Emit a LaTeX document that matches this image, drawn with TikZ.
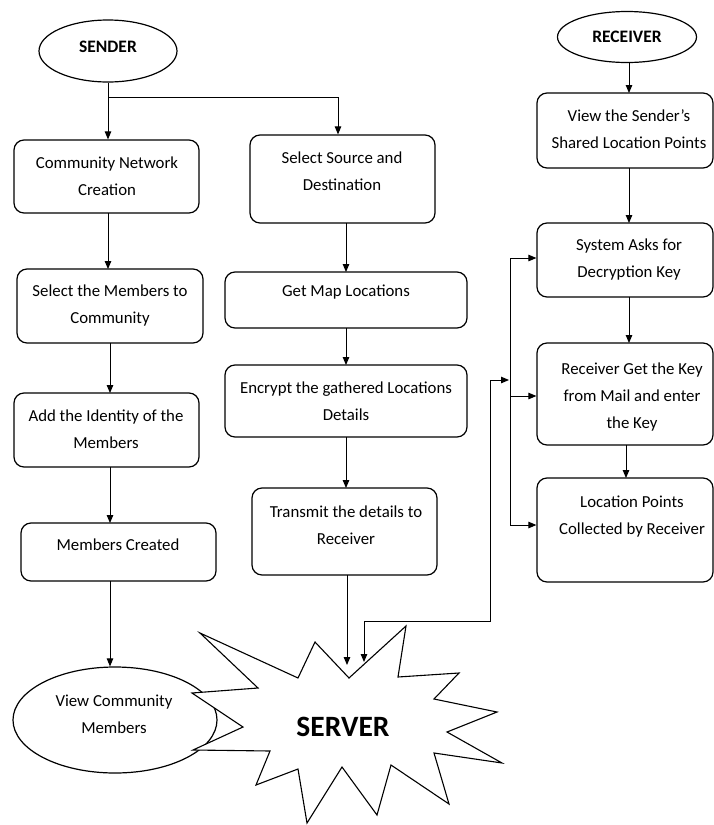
\documentclass[tikz,border=0pt]{standalone}
\usepackage{fontspec}
\setmainfont{Carlito}
\usetikzlibrary{arrows.meta,shapes.geometric}
\tikzset{
  box/.style={draw, line width=1.2pt, rounded corners=10pt, inner sep=0pt},
  oval/.style={draw, ellipse, line width=1.2pt, inner sep=0pt, fill=white},
  txt/.style={align=center, font=\fontsize{16.8}{27}\selectfont, inner sep=0pt},
  conn/.style={line width=1pt, -{Triangle[length=8pt,width=6.5pt]}},
  plain/.style={line width=1pt},
}
\newcommand{\boxat}[5]{% name, x1,y1,x2,y2
  \node[box, minimum width={#4-#2}, minimum height={#5-#3}] (#1) at ({(#2+#4)/2},{(#3+#5)/2}) {};}
\begin{document}
\begin{tikzpicture}[x=1pt,y=-1pt]
\useasboundingbox (0,0) rectangle (714,825);

% ellipses
\node[oval, minimum width=138pt, minimum height=62pt] (sender) at (108,51) {};
\node[txt, font=\fontsize{17.5}{20}\selectfont\bfseries] (sendert) at (108,47) {SENDER};
\node[oval, minimum width=139pt, minimum height=51pt] (receiver) at (627,37) {};
\node[txt, font=\fontsize{17.5}{20}\selectfont\bfseries] (receivert) at (627,37) {RECEIVER};

% left column
\boxat{comm}{14}{140}{199}{213}
\node[txt] (commt) at (107,176.5) {Community Network\\Creation};
\boxat{selmem}{17}{269}{203}{343}
\node[txt] (selmemt) at (110,306) {Select the Members to\\Community};
\boxat{addid}{14}{393}{199}{467}
\node[txt] (addidt) at (106,429.5) {Add the Identity of the\\Members};
\boxat{memcr}{21}{523}{216}{581}
\node[txt] (memcrt) at (118,545) {Members Created};

% middle column
\boxat{selsrc}{250}{135}{435}{223}
\node[txt] (selsrct) at (342,171.5) {Select Source and\\Destination};
\boxat{getmap}{225}{272}{467}{328}
\node[txt] (getmapt) at (346,292) {Get Map Locations};
\boxat{encr}{225}{365}{467}{437}
\node[txt] (encrt) at (346,401.5) {Encrypt the gathered Locations\\Details};
\boxat{trans}{252}{488}{437}{575}
\node[txt] (transt) at (346,525) {Transmit the details to\\Receiver};

% right column
\boxat{view}{537}{93}{713}{168}
\node[txt] (viewt) at (629,129) {View the Sender's\\Shared Location Points};
\boxat{sys}{537}{223}{713}{297}
\node[txt] (syst) at (629,260) {System Asks for\\Decryption Key};
\boxat{recget}{537}{343}{713}{445}
\node[txt] (recgett) at (632,397) {Receiver Get the Key\\from Mail and enter\\the Key};
\boxat{loc}{537}{478}{713}{582}
\node[txt] (loct) at (632,516.5) {Location Points\\Collected by Receiver};

% view community ellipse
\node[oval, minimum width=204pt, minimum height=106pt] (viewcomm) at (115,720) {};
\node[txt] (viewcommt) at (114,714.5) {View Community\\Members};

% server starburst
\draw[line width=1.1pt, fill=white, line join=miter]
  (200,633) -- (298,678) -- (315,642) -- (349,678) -- (406,626) -- (398,677)
  -- (459,673) -- (434,699) -- (497,712) -- (447,732) -- (502,763) -- (434,753)
  -- (449,804) -- (391,765) -- (377,815) -- (342,767) -- (307,823) -- (298,769)
  -- (256,785) -- (270,751) -- (193,750) -- (243,727) -- (192,693) -- (258,688) -- cycle;
\node[txt, font=\fontsize{29.5}{34}\selectfont\bfseries] (server) at (343,727) {SERVER};
\coordinate (srvA) at (347,665);
\coordinate (srvB) at (364,662);

% connectors
\coordinate (j1) at (108,97);
\draw[plain] (sender.south) -- (j1);
\draw[conn] (j1) -- (comm.north -| j1);
\draw[conn] (j1) -| (selsrc.north -| 338,0);
\draw[conn] (108,213) -- (108,269);
\draw[conn] (110,343) -- (110,393);
\draw[conn] (110,467) -- (110,523);
\draw[conn] (110,581) -- (viewcomm.north -| 110,0);
\draw[conn] (346,223) -- (346,272);
\draw[conn] (346,328) -- (346,365);
\draw[conn] (346,437) -- (346,488);
\draw[conn] (347,575) -- (srvA);
\draw[conn] (receiver.south -| 629,0) -- (629,93);
\draw[conn] (629,168) -- (629,223);
\draw[conn] (629,297) -- (629,343);
\draw[conn] (626,445) -- (626,478);

% bus to receiver boxes
\coordinate (b1) at (510,258);
\coordinate (b2) at (510,396);
\coordinate (b3) at (510,525);
\coordinate (fb) at (490,380);
\draw[plain] (b1) -- (b3);
\draw[conn] (b1) -- (sys.west |- b1);
\draw[conn] (b2) -- (recget.west |- b2);
\draw[conn] (b3) -- (loc.west |- b3);
\draw[line width=1pt, {Triangle[length=8pt,width=6.5pt]}-{Triangle[length=8pt,width=6.5pt]}]
  (srvB) -- (364,621) -- (490,621) -- (fb) -- (509,380);
\end{tikzpicture}
\end{document}
